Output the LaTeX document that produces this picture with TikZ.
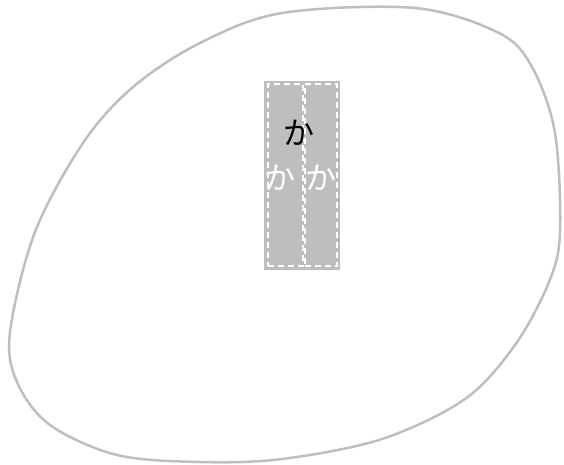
\documentclass[tikz,border=0pt]{standalone}
\usepackage{fontspec}
\newfontfamily\cjk{Noto Sans CJK JP}
\definecolor{blobgray}{HTML}{BCBEC0}
\begin{document}
\begin{tikzpicture}[x=1pt,y=-1pt,
  outline/.style={draw=blobgray,line width=2.5pt},
  column/.style={fill=blobgray},
  dashbox/.style={draw=white,line width=2pt,dash pattern=on 6pt off 4pt},
  kana/.style={font=\cjk\fontsize{31}{31}\selectfont,inner sep=0pt}]
\useasboundingbox (0,0) rectangle (564,464);
\draw[outline] plot[smooth cycle,tension=0.55] coordinates {
 (282,13) (200,43) (133,87) (83,143) (35,232) (10,332) (17,382) (50,425)
 (117,455) (200,462) (282,459) (382,439) (465,399) (515,345) (549,282)
 (560,232) (555,133) (532,67) (499,33) (415,8)};
\node[column,minimum width=76pt,minimum height=189pt,inner sep=0pt] (col) at (302,175.5) {};
\node[dashbox,minimum width=35pt,minimum height=182pt,inner sep=0pt] (left) at (285.5,175) {};
\node[dashbox,minimum width=32pt,minimum height=182pt,inner sep=0pt] (right) at (321,175) {};
\node[kana,text=black] (k1) at (299,133) {か};
\node[kana,text=white] (k2) at (280,178) {か};
\node[kana,text=white] (k3) at (321,178) {か};
\end{tikzpicture}
\end{document}
